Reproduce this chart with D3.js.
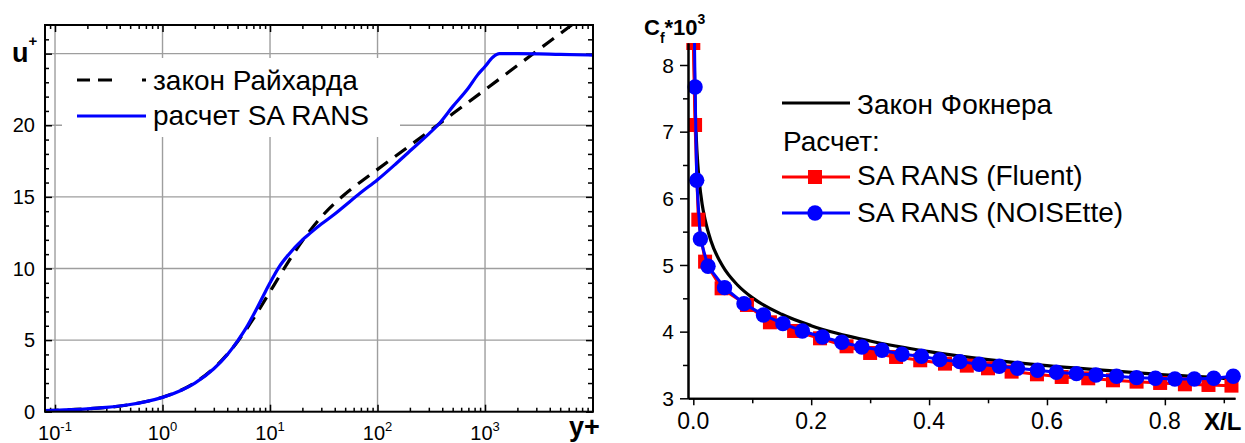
<!DOCTYPE html>
<html>
<head>
<meta charset="utf-8">
<script src="https://cdn.jsdelivr.net/npm/d3@7"></script>
<style>
  body { margin: 0; background: #fff; }
  svg { display: block; font-family: "Liberation Sans", Arial, sans-serif; }
</style>
</head>
<body>
<svg id="chart" width="1245" height="443"></svg>
<script>
// ---- Velocity profile in wall units (left panel) ----
const yPlusRans = [0.08, 0.1, 0.2, 0.3, 0.5, 0.7, 1, 1.5, 2, 3, 4, 5, 6, 7, 8.66, 10, 12, 15, 20, 23.5,
  30, 40, 50, 70, 100, 150, 200, 300, 363, 500, 700, 850, 1000, 1180, 1365, 2000, 5000, 10000];
const uPlusRans = [0.08, 0.1, 0.2, 0.3, 0.5, 0.7, 1.0, 1.5, 2.0, 3.0, 3.98, 4.95, 5.85, 6.75, 8.1, 9.0, 10.05, 11.0, 12.0, 12.45,
  13.1, 13.8, 14.4, 15.3, 16.2, 17.35, 18.2, 19.4, 20.0, 21.3, 22.6, 23.5, 24.1, 24.75, 25.0, 25.0, 24.95, 24.9];

const yPlusReichardt = [0.08, 0.1, 0.2, 0.5, 1, 1.5, 2, 3, 4, 5, 7, 10, 12, 15, 20, 30, 50, 70, 100, 200, 300, 500,
  1000, 2000, 3000, 5000, 7000];
const uPlusReichardt = [0.08, 0.10, 0.20, 0.50, 1.01, 1.52, 2.03, 3.04, 4.00, 4.90, 6.49, 8.38, 9.36, 10.53, 11.93, 13.60,
  15.20, 16.06, 16.92, 18.58, 19.56, 20.80, 22.48, 24.17, 25.16, 26.40, 27.22];

const yPlusDecades = [0.1, 1, 10, 100, 1000];
const yPlusExponents = ["-1", "0", "1", "2", "3"];
const uPlusTicks = [0, 5, 10, 15, 20];
const uPlusGrid = [5, 10, 15, 20, 25];

// ---- Skin friction along the plate (right panel) ----
const xFalkner = [0.001, 0.0015, 0.002, 0.003, 0.005, 0.0075, 0.01, 0.015, 0.02, 0.03, 0.05, 0.075, 0.1, 0.15, 0.2,
  0.3, 0.4, 0.5, 0.6, 0.7, 0.8, 0.9, 0.92];
const cfFalkner = [8.71, 8.22, 7.89, 7.44, 6.92, 6.53, 6.27, 5.91, 5.68, 5.36, 4.98, 4.70, 4.51, 4.26, 4.09,
  3.86, 3.70, 3.58, 3.49, 3.42, 3.35, 3.30, 3.28];

const xFluent = [0.0, 0.003, 0.0085, 0.020, 0.048, 0.091, 0.130, 0.171, 0.215, 0.260, 0.300, 0.344, 0.385, 0.427,
  0.464, 0.500, 0.540, 0.583, 0.625, 0.670, 0.712, 0.752, 0.792, 0.834, 0.874, 0.913];
const cfFluent = [8.33, 7.10, 5.68, 5.05, 4.65, 4.40, 4.14, 4.01, 3.90, 3.78, 3.68, 3.62, 3.57, 3.52,
  3.49, 3.45, 3.40, 3.36, 3.32, 3.30, 3.27, 3.25, 3.23, 3.21, 3.20, 3.19];

const xNoisette = [0.0012, 0.003, 0.0058, 0.012, 0.025, 0.053, 0.086, 0.119, 0.152, 0.185, 0.219, 0.252, 0.286,
  0.320, 0.354, 0.387, 0.418, 0.452, 0.485, 0.519, 0.550, 0.584, 0.616, 0.650, 0.683, 0.718, 0.752, 0.784,
  0.817, 0.850, 0.883, 0.916];
const cfNoisette = [8.9, 7.67, 6.27, 5.39, 4.98, 4.66, 4.42, 4.25, 4.12, 4.01, 3.92, 3.84, 3.77,
  3.72, 3.66, 3.63, 3.58, 3.55, 3.51, 3.48, 3.45, 3.42, 3.39, 3.37, 3.35, 3.33, 3.31, 3.30,
  3.29, 3.29, 3.30, 3.33];

const xlTicks = [0, 0.2, 0.4, 0.6, 0.8];
const xlMinor = [0.1, 0.3, 0.5, 0.7, 0.9];
const cfTicks = [3, 4, 5, 6, 7, 8];
const cfMinor = [3.5, 4.5, 5.5, 6.5, 7.5];

const svg = d3.select("#chart");

// =================== Left panel ===================
const L = { left: 45, right: 593, top: 25, bottom: 411.7 };
const xL = d3.scaleLog().domain([0.0807, 10100]).range([L.left, L.right]);
const yL = d3.scaleLinear().domain([0, 27]).range([L.bottom, L.top]);

const logMinor = [];
[0.01, 0.1, 1, 10, 100, 1000].forEach(d => {
  for (let k = 2; k <= 9; k++) {
    const v = d * k;
    if (v >= 0.0807 && v <= 10100) logMinor.push(v);
  }
});
const uMinor = d3.range(1, 27).filter(v => v % 5 !== 0);
const uMajor = [0, 5, 10, 15, 20, 25];

const gL = svg.append("g");

// grid
gL.selectAll("line.vg").data(yPlusDecades).join("line")
  .attr("x1", d => xL(d)).attr("x2", d => xL(d))
  .attr("y1", L.top).attr("y2", L.bottom)
  .attr("stroke", "#9e9e9e").attr("stroke-width", 1.4);
gL.selectAll("line.hg").data(uPlusGrid).join("line")
  .attr("x1", L.left).attr("x2", L.right)
  .attr("y1", d => yL(d)).attr("y2", d => yL(d))
  .attr("stroke", "#9e9e9e").attr("stroke-width", 1.4);

// legend background
gL.append("rect").attr("x", 62).attr("y", 58).attr("width", 338).attr("height", 79).attr("fill", "#fff");

// ticks on all four sides, pointing inward
function ticksL(axisFn, scale, values, size, transform) {
  const ax = axisFn(scale).tickValues(values).tickSize(size).tickSizeOuter(0).tickFormat("");
  const g = gL.append("g").attr("transform", transform).call(ax);
  g.select(".domain").remove();
  g.selectAll("line").attr("stroke", "#000").attr("stroke-width", 1.5);
}
ticksL(d3.axisBottom, xL, yPlusDecades, -7, `translate(0,${L.bottom})`);
ticksL(d3.axisBottom, xL, logMinor, -4, `translate(0,${L.bottom})`);
ticksL(d3.axisTop, xL, yPlusDecades, -7, `translate(0,${L.top})`);
ticksL(d3.axisTop, xL, logMinor, -4, `translate(0,${L.top})`);
ticksL(d3.axisLeft, yL, uMajor, -7, `translate(${L.left},0)`);
ticksL(d3.axisLeft, yL, uMinor, -4, `translate(${L.left},0)`);
ticksL(d3.axisRight, yL, uMajor, -7, `translate(${L.right},0)`);
ticksL(d3.axisRight, yL, uMinor, -5, `translate(${L.right},0)`);

// curves
gL.append("clipPath").attr("id", "clipL").append("rect")
  .attr("x", L.left).attr("y", L.top).attr("width", L.right - L.left).attr("height", L.bottom - L.top);

const lineL = d3.line().x(d => xL(d[0])).y(d => yL(d[1])).curve(d3.curveMonotoneX);
gL.append("path")
  .datum(yPlusReichardt.map((v, i) => [v, uPlusReichardt[i]]))
  .attr("clip-path", "url(#clipL)")
  .attr("d", lineL).attr("fill", "none").attr("stroke", "#000")
  .attr("stroke-width", 3.2).attr("stroke-dasharray", "14,9");
gL.append("path")
  .datum(yPlusRans.map((v, i) => [v, uPlusRans[i]]))
  .attr("clip-path", "url(#clipL)")
  .attr("d", lineL).attr("fill", "none").attr("stroke", "#0000ff")
  .attr("stroke-width", 3.2).attr("stroke-linejoin", "round");

// frame
gL.append("rect").attr("x", L.left).attr("y", L.top)
  .attr("width", L.right - L.left).attr("height", L.bottom - L.top)
  .attr("fill", "none").attr("stroke", "#000").attr("stroke-width", 2);

// tick labels
gL.selectAll("text.yl").data(uPlusTicks).join("text")
  .attr("x", 35).attr("y", d => yL(d)).attr("dy", "0.36em")
  .attr("text-anchor", "end").attr("font-size", 20).text(d => d);

yPlusDecades.forEach((d, i) => {
  const t = gL.append("text").attr("x", xL(d)).attr("y", 440)
    .attr("text-anchor", "middle").attr("font-size", 20);
  t.append("tspan").text("10");
  t.append("tspan").attr("dy", -9).attr("font-size", 13).text(yPlusExponents[i]);
});

// axis titles
const uT = gL.append("text").attr("x", 12).attr("y", 62).attr("font-weight", "bold").attr("font-size", 27);
uT.append("tspan").text("u");
uT.append("tspan").attr("dy", -16).attr("font-size", 15).text("+");
gL.append("text").attr("x", 569).attr("y", 436).attr("font-weight", "bold").attr("font-size", 27).text("y+");

// legend
gL.append("line").attr("x1", 77).attr("x2", 146).attr("y1", 80).attr("y2", 80)
  .attr("stroke", "#000").attr("stroke-width", 3.2).attr("stroke-dasharray", "13,8,14,30,4,20");
gL.append("text").attr("x", 153).attr("y", 90).attr("font-size", 28).text("закон Райхарда");
gL.append("line").attr("x1", 77).attr("x2", 146).attr("y1", 116).attr("y2", 116)
  .attr("stroke", "#0000ff").attr("stroke-width", 3.2);
gL.append("text").attr("x", 153).attr("y", 125).attr("font-size", 28).text("расчет SA RANS");

// =================== Right panel ===================
const R = { left: 688, right: 1235, top: 43, bottom: 398.3 };
const xR = d3.scaleLinear().domain([-0.009, 0.919]).range([R.left, R.right]);
const yR = d3.scaleLinear().domain([3, 8.33]).range([R.bottom, R.top]);

const gR = svg.append("g");

gR.append("clipPath").attr("id", "clipR").append("rect")
  .attr("x", 640).attr("y", R.top).attr("width", 605).attr("height", 443 - R.top);

const lineR = d3.line().x(d => xR(d[0])).y(d => yR(d[1]));
const plot = gR.append("g").attr("clip-path", "url(#clipR)");

// Falkner law
plot.append("path")
  .datum(xFalkner.map((v, i) => [v, cfFalkner[i]]))
  .attr("d", lineR.curve(d3.curveMonotoneX)).attr("fill", "none")
  .attr("stroke", "#000").attr("stroke-width", 3.2);

// Fluent
const fluent = xFluent.map((v, i) => [v, cfFluent[i]]);
plot.append("path").datum(fluent)
  .attr("d", d3.line().x(d => xR(d[0])).y(d => yR(d[1])))
  .attr("fill", "none").attr("stroke", "#ff0000").attr("stroke-width", 3);
plot.selectAll("rect.sq").data(fluent).join("rect")
  .attr("x", d => xR(d[0]) - 7).attr("y", d => yR(d[1]) - 7)
  .attr("width", 14).attr("height", 14).attr("fill", "#ff0000");

// NOISEtte
const noisette = xNoisette.map((v, i) => [v, cfNoisette[i]]);
plot.append("path").datum(noisette)
  .attr("d", d3.line().x(d => xR(d[0])).y(d => yR(d[1])))
  .attr("fill", "none").attr("stroke", "#0000ff").attr("stroke-width", 3);
plot.selectAll("circle.ci").data(noisette).join("circle")
  .attr("cx", d => xR(d[0])).attr("cy", d => yR(d[1])).attr("r", 7.7).attr("fill", "#0000ff");

// axes
function axR(axisFn, scale, values, size, transform) {
  const ax = axisFn(scale).tickValues(values).tickSize(size).tickSizeOuter(0).tickFormat("");
  const g = gR.append("g").attr("transform", transform).call(ax);
  g.select(".domain").attr("stroke", "#000").attr("stroke-width", 2);
  g.selectAll("line").attr("stroke", "#000").attr("stroke-width", 1.5);
}
axR(d3.axisLeft, yR, cfTicks, 8, `translate(${R.left},0)`);
axR(d3.axisLeft, yR, cfMinor, 5, `translate(${R.left},0)`);
axR(d3.axisBottom, xR, xlTicks, 7, `translate(0,${R.bottom})`);
axR(d3.axisBottom, xR, xlMinor, 5, `translate(0,${R.bottom})`);

gR.selectAll("text.cy").data(cfTicks).join("text")
  .attr("x", 674).attr("y", d => yR(d)).attr("dy", "0.36em")
  .attr("text-anchor", "end").attr("font-size", 21).text(d => d);
gR.selectAll("text.cx").data(xlTicks).join("text")
  .attr("x", d => xR(d)).attr("y", 429)
  .attr("text-anchor", "middle").attr("font-size", 23).text(d => d3.format(".1f")(d));

// axis titles
const cT = gR.append("text").attr("x", 644).attr("y", 35).attr("font-weight", "bold").attr("font-size", 22);
cT.append("tspan").text("C");
cT.append("tspan").attr("dy", 8).attr("font-size", 14).text("f");
cT.append("tspan").attr("dy", -8).attr("font-size", 22).text("*10");
cT.append("tspan").attr("dy", -11).attr("font-size", 14).text("3");
gR.append("text").attr("x", 1204).attr("y", 430).attr("font-weight", "bold").attr("font-size", 24).text("X/L");

// legend
gR.append("line").attr("x1", 782).attr("x2", 850).attr("y1", 103).attr("y2", 103)
  .attr("stroke", "#000").attr("stroke-width", 3.2);
gR.append("text").attr("x", 857).attr("y", 114).attr("font-size", 28).text("Закон Фокнера");
gR.append("text").attr("x", 783).attr("y", 151).attr("font-size", 28).text("Расчет:");
gR.append("line").attr("x1", 782).attr("x2", 850).attr("y1", 177).attr("y2", 177)
  .attr("stroke", "#ff0000").attr("stroke-width", 3);
gR.append("rect").attr("x", 815 - 7).attr("y", 177 - 7).attr("width", 14).attr("height", 14).attr("fill", "#ff0000");
gR.append("text").attr("x", 857).attr("y", 185).attr("font-size", 28).text("SA RANS (Fluent)");
gR.append("line").attr("x1", 782).attr("x2", 850).attr("y1", 213).attr("y2", 213)
  .attr("stroke", "#0000ff").attr("stroke-width", 3);
gR.append("circle").attr("cx", 815).attr("cy", 213).attr("r", 7.7).attr("fill", "#0000ff");
gR.append("text").attr("x", 857).attr("y", 222).attr("font-size", 28).text("SA RANS (NOISEtte)");
</script>
</body>
</html>
